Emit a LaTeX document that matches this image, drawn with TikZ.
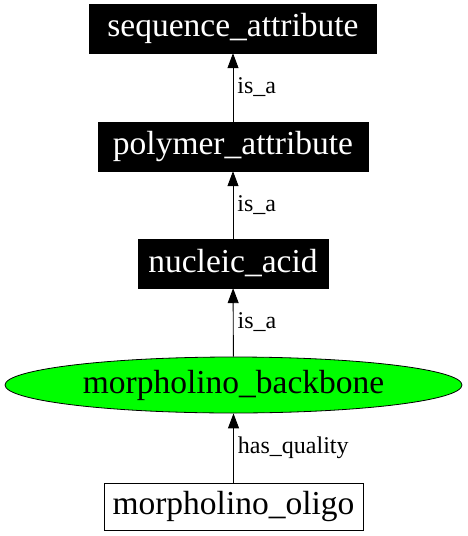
\documentclass[tikz,border=0pt]{standalone}
\usepackage{fontspec}
\setmainfont{Liberation Serif}
\usetikzlibrary{shapes.geometric,arrows.meta}
\begin{document}
\begin{tikzpicture}[x=1pt,y=-1pt,
  blackbox/.style={rectangle,fill=black,draw=black,text=white,font=\fontsize{33.5}{38}\selectfont,minimum height=49pt,inner sep=0pt},
  whitebox/.style={rectangle,fill=white,draw=black,line width=0.8pt,text=black,font=\fontsize{33.5}{38}\selectfont,minimum height=47pt,inner sep=0pt},
  greenell/.style={ellipse,fill=green,draw=black,line width=0.8pt,font=\fontsize{33.5}{38}\selectfont,minimum width=457pt,minimum height=56pt,inner sep=0pt},
  edgelbl/.style={font=\fontsize{24}{27}\selectfont,anchor=west,inner sep=0pt},
  conn/.style={draw=black,line width=0.9pt,-{Triangle[length=15pt,width=11pt]}}]
\useasboundingbox (0,0) rectangle (467,536);
\node[blackbox,minimum width=287pt] (seq) at (233,28.5) {sequence\_attribute};
\node[blackbox,minimum width=270pt] (poly) at (233,146.5) {polymer\_attribute};
\node[blackbox,minimum width=190pt] (nuc) at (233,263.5) {nucleic\_acid};
\node[greenell] (mb) at (233.5,385) {morpholino\_backbone};
\node[whitebox,minimum width=259pt] (mo) at (233.5,506.5) {morpholino\_oligo};
\draw[conn] (poly) -- node[edgelbl,xshift=4pt] (l1) {is\_a} (seq);
\draw[conn] (nuc) -- node[edgelbl,xshift=4pt] (l2) {is\_a} (poly);
\draw[conn] (mb) -- node[edgelbl,xshift=4pt] (l3) {is\_a} (nuc);
\draw[conn] (mo) -- node[edgelbl,xshift=4pt] (l4) {has\_quality} (mb);
\end{tikzpicture}
\end{document}
